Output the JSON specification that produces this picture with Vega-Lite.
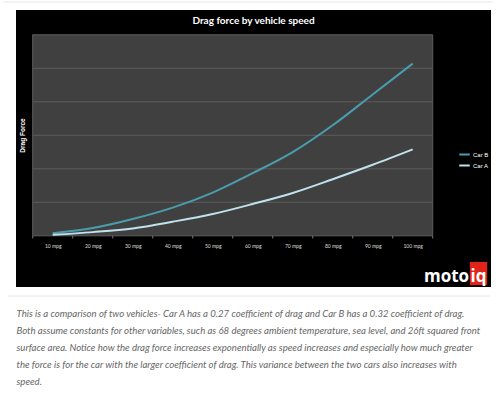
{
  "$schema": "https://vega.github.io/schema/vega-lite/v6.json",
  "usermeta": {"embedOptions": {"actions": false}},
  "width": 475,
  "height": 277,
  "autosize": {"type": "none"},
  "padding": {"left": 16, "top": 10, "right": 9, "bottom": 110},
  "background": "white",
  "view": {"fill": "#000000", "stroke": null},
  "title": {
    "text": "Drag force by vehicle speed",
    "color": "white",
    "font": "Lato",
    "fontSize": 10,
    "fontWeight": "bold",
    "anchor": "middle",
    "frame": "group",
    "offset": -25
  },
  "data": {
    "values": [
      {"car": "Car B", "mpg": 10, "force": 8},
      {"car": "Car B", "mpg": 20, "force": 23},
      {"car": "Car B", "mpg": 30, "force": 50},
      {"car": "Car B", "mpg": 40, "force": 84},
      {"car": "Car B", "mpg": 50, "force": 129},
      {"car": "Car B", "mpg": 60, "force": 187},
      {"car": "Car B", "mpg": 70, "force": 250},
      {"car": "Car B", "mpg": 80, "force": 330},
      {"car": "Car B", "mpg": 90, "force": 422},
      {"car": "Car B", "mpg": 100, "force": 514},
      {"car": "Car A", "mpg": 10, "force": 3},
      {"car": "Car A", "mpg": 20, "force": 11},
      {"car": "Car A", "mpg": 30, "force": 22},
      {"car": "Car A", "mpg": 40, "force": 42},
      {"car": "Car A", "mpg": 50, "force": 65},
      {"car": "Car A", "mpg": 60, "force": 95},
      {"car": "Car A", "mpg": 70, "force": 128},
      {"car": "Car A", "mpg": 80, "force": 169},
      {"car": "Car A", "mpg": 90, "force": 212},
      {"car": "Car A", "mpg": 100, "force": 258}
    ]
  },
  "layer": [
    {
      "data": {"values": [{}]},
      "mark": {"type": "rect", "fill": "#404040", "stroke": "#5e5e5e", "strokeWidth": 1},
      "encoding": {
        "x": {"datum": 5, "type": "quantitative"},
        "x2": {"datum": 105},
        "y": {"datum": 0, "type": "quantitative"},
        "y2": {"datum": 600}
      }
    },
    {
      "data": {"values": [{"g": 100}, {"g": 200}, {"g": 300}, {"g": 400}, {"g": 500}]},
      "mark": {"type": "rule", "stroke": "#5c5c5c", "strokeWidth": 1},
      "encoding": {
        "y": {"field": "g", "type": "quantitative"},
        "x": {"datum": 5, "type": "quantitative"},
        "x2": {"datum": 105}
      }
    },
    {
      "data": {"values": [{"t": 5}, {"t": 15}, {"t": 25}, {"t": 35}, {"t": 45}, {"t": 55}, {"t": 65}, {"t": 75}, {"t": 85}, {"t": 95}, {"t": 105}]},
      "mark": {"type": "rule", "stroke": "#777777", "strokeWidth": 1},
      "encoding": {
        "x": {"field": "t", "type": "quantitative"},
        "y": {"datum": 0, "type": "quantitative"},
        "y2": {"datum": -8}
      }
    },
    {
      "mark": {"type": "line", "interpolate": "monotone", "strokeWidth": 2},
      "encoding": {
        "x": {
          "field": "mpg",
          "type": "quantitative",
          "scale": {"domain": [0.825, 119.575], "nice": false, "zero": false},
          "axis": {
            "values": [10, 20, 30, 40, 50, 60, 70, 80, 90, 100],
            "labelExpr": "datum.value + ' mpg'",
            "labelFlush": false,
            "labelOverlap": false,
            "ticks": false,
            "tickSize": 0,
            "domain": false,
            "grid": false,
            "offset": -51,
            "labelPadding": 7,
            "labelFontSize": 5,
            "labelFont": "Lato",
            "labelColor": "#dddddd",
            "title": [
              "This is a comparison of two vehicles- Car A has a 0.27 coefficient of drag and Car B has a 0.32 coefficient of drag.",
              " Both assume constants for other variables, such as 68 degrees ambient temperature, sea level, and 26ft squared front",
              "surface area.  Notice how the drag force increases exponentially as speed increases and especially how much greater",
              "the force is for the car with the larger coefficient of drag.  This variance between the two cars also increases with",
              "speed."
            ],
            "titleX": 0,
            "titleY": 80,
            "titleAlign": "left",
            "titleAnchor": "start",
            "titleBaseline": "alphabetic",
            "titleFont": "Lato",
            "titleFontStyle": "italic",
            "titleFontWeight": "normal",
            "titleFontSize": 9.6,
            "titleColor": "#666666",
            "titleLineHeight": 17.1
          }
        },
        "y": {
          "field": "force",
          "type": "quantitative",
          "scale": {"domain": [-152.8, 674], "nice": false, "zero": false},
          "axis": {
            "labels": false,
            "ticks": false,
            "domain": false,
            "grid": false,
            "title": "Drag Force",
            "titleX": 6,
            "titleY": 125,
            "titleAngle": -90,
            "titleAlign": "center",
            "titleBaseline": "middle",
            "titleColor": "white",
            "titleFont": "Liberation Sans",
            "titleFontSize": 6.5,
            "titleFontWeight": "bold"
          }
        },
        "color": {
          "field": "car",
          "type": "nominal",
          "scale": {"domain": ["Car B", "Car A"], "range": ["#4a9dae", "#bfe2ec"]},
          "legend": {
            "orient": "none",
            "legendX": 442,
            "legendY": 138,
            "title": null,
            "padding": 0,
            "symbolType": "stroke",
            "symbolSize": 110,
            "symbolStrokeWidth": 2,
            "rowPadding": 0,
            "labelOffset": 2,
            "labelColor": "white",
            "labelFont": "Liberation Sans",
            "labelFontSize": 6
          }
        }
      }
    },
    {
      "data": {"values": [{}]},
      "mark": {"type": "rect", "fill": "#e2231a"},
      "encoding": {
        "x": {"datum": 114.3, "type": "quantitative"},
        "x2": {"datum": 118.6},
        "y": {"datum": -78, "type": "quantitative"},
        "y2": {"datum": -147}
      }
    },
    {
      "data": {"values": [{"word": "moto", "pos": 114.1}]},
      "mark": {"type": "text", "fill": "white", "font": "Open Sans", "fontWeight": "bold", "fontSize": 17, "align": "right", "baseline": "alphabetic"},
      "encoding": {
        "x": {"field": "pos", "type": "quantitative"},
        "y": {"datum": -136.4, "type": "quantitative"},
        "text": {"field": "word"}
      }
    },
    {
      "data": {"values": [{"word": "iq", "pos": 116.45}]},
      "mark": {"type": "text", "fill": "white", "font": "Open Sans", "fontWeight": "bold", "fontSize": 17, "align": "center", "baseline": "alphabetic"},
      "encoding": {
        "x": {"field": "pos", "type": "quantitative"},
        "y": {"datum": -136.4, "type": "quantitative"},
        "text": {"field": "word"}
      }
    },
    {
      "data": {"values": [{"a": -2.425, "b": 120.075, "h": 697.9}, {"a": -1.175, "b": 119.325, "h": -179.7}]},
      "mark": {"type": "rule", "stroke": "#e6e6e6", "strokeWidth": 1},
      "encoding": {
        "x": {"field": "a", "type": "quantitative"},
        "x2": {"field": "b"},
        "y": {"field": "h", "type": "quantitative"}
      }
    }
  ]
}
